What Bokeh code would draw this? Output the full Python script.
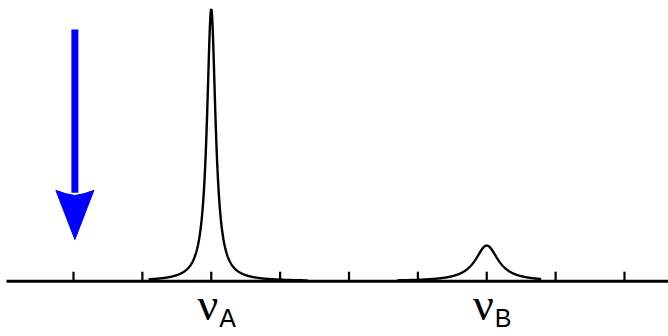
from bokeh.plotting import figure
from bokeh.models import ColumnDataSource, Range1d
from bokeh.core.properties import value
from bokeh.embed import file_html
from bokeh.resources import INLINE
import numpy as np

# ---- data ----
tick_positions = [0, 1, 2, 3, 4, 5, 6, 7, 8]
peak_names = ["A", "B"]
peak_centers = [2.0, 6.0]
peak_heights = [1.0, 0.131]
peak_halfwidths = [0.0755, 0.203]
peak_starts = [1.09, 4.70]
peak_ends = [3.40, 6.79]
arrow_x = 0.02
arrow_top = 0.925
arrow_head_base = 0.334
arrow_notch = 0.315
arrow_tip = 0.153
arrow_head_halfwidth = 0.276

W, H = 668, 336
x0, x1 = -1.060, 8.639
y0, y1 = -0.2033, 1.032
px_per_y = H / (y1 - y0)
base_start = -0.973

p = figure(width=W, height=H, x_range=Range1d(x0, x1), y_range=Range1d(y0, y1),
           output_backend="svg", toolbar_location=None,
           x_axis_location=None, y_axis_location=None, min_border=0)
p.grid.visible = False
p.outline_line_color = None
p.background_fill_color = "white"
p.border_fill_color = "white"

# baseline
p.segment(x0=[base_start], y0=[0], x1=[x1], y1=[0], line_color="black", line_width=3)
# ticks
tick_len = 9.5 / px_per_y
p.segment(x0=tick_positions, y0=[0] * len(tick_positions), x1=tick_positions,
          y1=[tick_len] * len(tick_positions), line_color="black", line_width=2.2)

# peaks (Lorentzian line shapes)
for c, h, g, s, e in zip(peak_centers, peak_heights, peak_halfwidths, peak_starts, peak_ends):
    xs = np.linspace(s, e, 600)
    ys = h / (1 + ((xs - c) / g) ** 2)
    p.line(xs, ys, line_color="black", line_width=2.4)

# arrow
p.segment(x0=[arrow_x], y0=[arrow_top], x1=[arrow_x], y1=[arrow_notch + 0.01],
          line_color="#0000ff", line_width=7, line_cap="butt")
p.patch(x=[arrow_x, arrow_x + arrow_head_halfwidth, arrow_x + arrow_head_halfwidth * 0.5, arrow_x,
           arrow_x - arrow_head_halfwidth * 0.5, arrow_x - arrow_head_halfwidth],
        y=[arrow_tip, arrow_head_base, arrow_head_base - 0.012, arrow_notch,
           arrow_head_base - 0.012, arrow_head_base],
        fill_color="#0000ff", line_color="#0000ff", line_width=1)

# labels
nu_y = -23 / px_per_y
sub_y = -37 / px_per_y
src = ColumnDataSource(dict(x=peak_centers, nu=["ν"] * len(peak_centers), sub=peak_names,
                            ynu=[nu_y] * len(peak_centers), ysub=[sub_y] * len(peak_centers)))
p.text(x="x", y="ynu", text="nu", source=src, text_font=value("Liberation Serif"),
       text_font_size="46px", text_align="right",
       text_baseline="alphabetic", x_offset=7, text_color="black")
p.text(x="x", y="ysub", text="sub", source=src, text_font=value("Liberation Sans"),
       text_font_size="25px", text_align="left", text_baseline="alphabetic",
       x_offset=8, text_color="black")

open("out.html", "w").write(file_html(p, INLINE))
